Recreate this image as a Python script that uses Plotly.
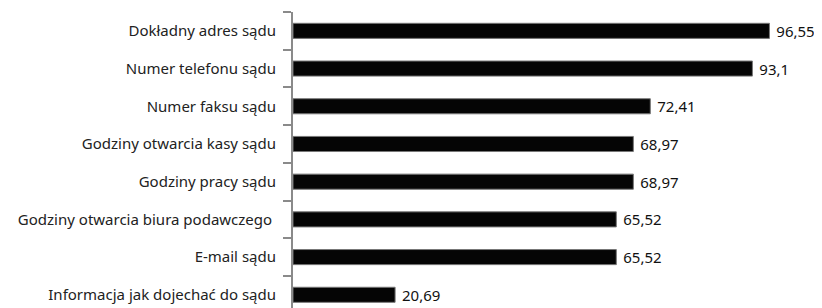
import plotly.graph_objects as go

categories = [
    "Dokładny adres sądu",
    "Numer telefonu sądu",
    "Numer faksu sądu",
    "Godziny otwarcia kasy sądu",
    "Godziny pracy sądu",
    "Godziny otwarcia biura podawczego ",
    "E-mail sądu",
    "Informacja jak dojechać do sądu",
]
values = [96.55, 93.1, 72.41, 68.97, 68.97, 65.52, 65.52, 20.69]
value_labels = ["96,55", "93,1", "72,41", "68,97", "68,97", "65,52", "65,52", "20,69"]

FONT = "Noto Sans"

fig = go.Figure(
    go.Bar(
        x=values,
        y=categories,
        orientation="h",
        width=0.4,
        marker=dict(color="#050505", line=dict(color="#777777", width=1)),
        text=[" " + t for t in value_labels],
        textposition="outside",
        constraintext="none",
        textfont=dict(family=FONT, size=15, color="#111111"),
        cliponaxis=False,
        hoverinfo="skip",
    )
)

# page has an 8px body margin, so the figure is offset by (8, 8)
fig.update_layout(
    width=814,
    height=300,
    margin=dict(l=285, r=0, t=4, b=0, autoexpand=False),
    paper_bgcolor="white",
    plot_bgcolor="white",
    showlegend=False,
    font=dict(family=FONT, size=15, color="#222222"),
)

fig.update_xaxes(
    range=[0, 107.2],
    visible=False,
    showgrid=False,
    zeroline=False,
)

fig.update_yaxes(
    type="category",
    categoryorder="array",
    categoryarray=categories,
    range=[7.35, -0.5],
    showline=True,
    linecolor="#8a8a8a",
    linewidth=2,
    ticks="outside",
    tickson="boundaries",
    ticklen=8,
    tickwidth=2,
    tickcolor="#8a8a8a",
    showgrid=False,
    zeroline=False,
    automargin=False,
    tickfont=dict(family=FONT, size=15, color="#222222"),
    ticklabelstandoff=12,
)

fig.write_html("out.html")
